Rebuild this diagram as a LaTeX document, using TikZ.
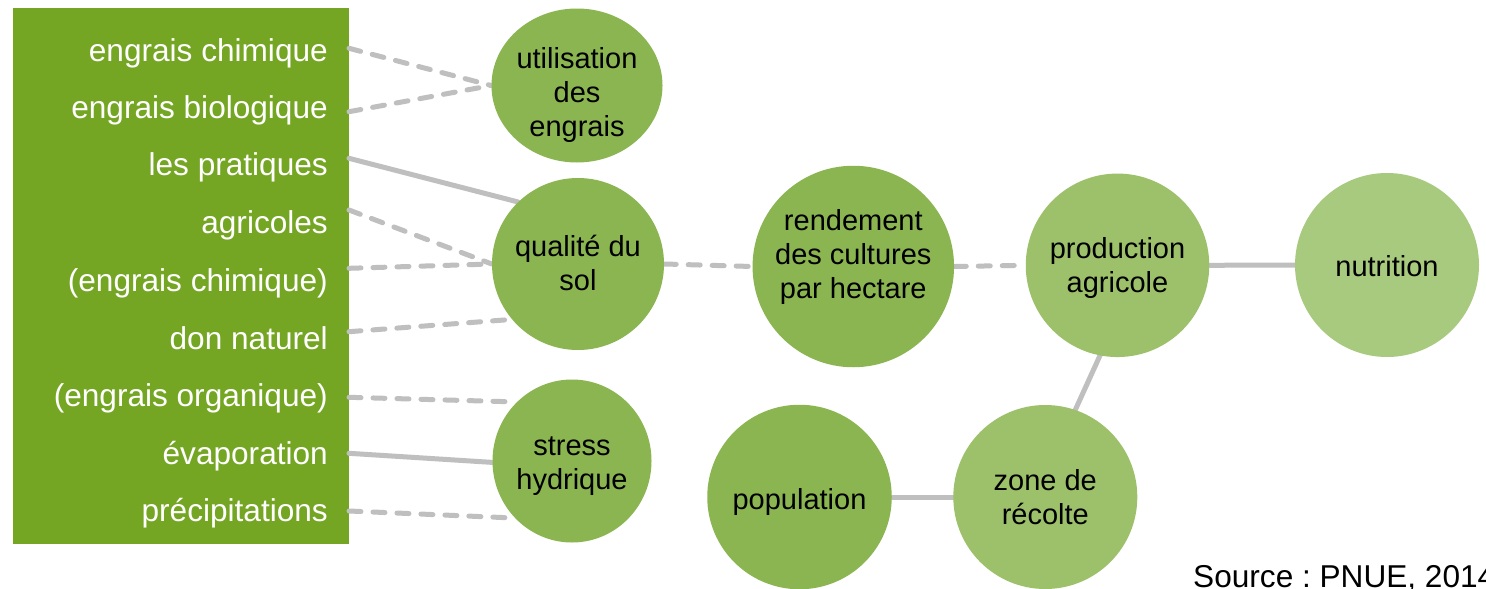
\documentclass[tikz,border=0pt]{standalone}
\usepackage{fontspec}
\setmainfont{Liberation Sans}
\usetikzlibrary{shapes.geometric}
\definecolor{boxgreen}{RGB}{116,166,36}
\definecolor{cdark}{RGB}{139,181,81}
\definecolor{cmid}{RGB}{157,193,106}
\definecolor{clight}{RGB}{168,202,126}
\definecolor{linegray}{RGB}{191,191,191}
\frenchspacing
\begin{document}
\begin{tikzpicture}[x=1pt,y=-1pt,
  conn/.style={draw=linegray, line width=5pt, line cap=round},
  dashconn/.style={conn, dash pattern=on 12pt off 12pt},
  bubble/.style={ellipse, inner sep=0pt, draw=none},
  ltxt/.style={anchor=base east, text=white, font=\fontsize{31.6}{36}\selectfont, inner sep=0pt},
  ctxt/.style={align=center, text=black, font=\fontsize{29}{34}\selectfont, inner sep=0pt}]
\clip (0,0) rectangle (1486,589);
\fill[white] (0,0) rectangle (1486,589);

% left box
\node[fill=boxgreen, minimum width=336pt, minimum height=536pt, inner sep=0pt, anchor=north west] (box) at (13,8) {};
\node[ltxt] (t1) at (328,61) {engrais chimique};
\node[ltxt] (t2) at (328,118.3) {engrais biologique};
\node[ltxt] (t3) at (328,175) {les pratiques};
\node[ltxt] (t4) at (328,233.3) {agricoles};
\node[ltxt] (t5) at (328,291) {(engrais chimique)};
\node[ltxt] (t6) at (328,349.3) {don naturel};
\node[ltxt] (t7) at (328,406.7) {(engrais organique)};
\node[ltxt] (t8) at (328,464) {évaporation};
\node[ltxt] (t9) at (328,521.7) {précipitations};

\coordinate (s1) at (349,48.3);
\coordinate (s2) at (349,111.7);
\coordinate (s3) at (349,158.3);
\coordinate (s4) at (349,210);
\coordinate (s5) at (349,268.3);
\coordinate (s6) at (349,331.7);
\coordinate (s7) at (349,397.3);
\coordinate (s8) at (349,453.3);
\coordinate (s9) at (349,511);

% bubbles
\node[bubble, minimum width=171pt, minimum height=154pt] (u) at (577,85.5) {};
\node[bubble, minimum width=172pt, minimum height=172pt] (q) at (578,264) {};
\node[bubble, minimum width=159pt, minimum height=163pt] (s) at (572,461) {};
\node[bubble, minimum width=201.5pt, minimum height=201.5pt] (r) at (853.3,266.5) {};
\node[bubble, minimum width=183.5pt, minimum height=183.5pt] (p) at (1117.5,265.3) {};
\node[bubble, minimum width=184pt, minimum height=184pt] (n) at (1387,265) {};
\node[bubble, minimum width=184.5pt, minimum height=184.5pt] (pop) at (799.5,497) {};
\node[bubble, minimum width=184pt, minimum height=184pt] (z) at (1045.3,497) {};

% connectors
\draw[dashconn] (s1) -- (u.west);
\draw[dashconn] (s2) -- (u.west);
\draw[conn] (s3) -- (q.134.5);
\draw[dashconn] (s4) -- (q.180);
\draw[dashconn] (s5) -- (q.180);
\draw[dashconn] (s6) -- (q.220);
\draw[dashconn] (s7) -- (s.133);
\draw[conn] (s8) -- (s.181);
\draw[dashconn] (s9) -- (s.225);
\draw[dashconn] (q.east) -- (r.west);
\draw[dashconn] (r.east) -- (p.west);
\draw[conn] (p.east) -- (n.west);
\draw[conn] (p.259) -- (z.71);
\draw[conn] (pop.east) -- (z.west);

% bubble fills on top
\fill[cdark] (u.center) ellipse [x radius=85.5pt, y radius=77pt];
\fill[cdark] (q.center) circle [radius=86pt];
\fill[cdark] (s.center) ellipse [x radius=79.5pt, y radius=81.5pt];
\fill[cdark] (r.center) circle [radius=100.75pt];
\fill[cmid] (p.center) circle [radius=91.75pt];
\fill[clight] (n.center) circle [radius=92pt];
\fill[cdark] (pop.center) circle [radius=92.25pt];
\fill[cmid] (z.center) circle [radius=92pt];

% bubble texts
\node[ctxt] (ut) at (577,95) {utilisation\\des\\engrais};
\node[ctxt] (qt) at (578,263) {qualité du\\sol};
\node[ctxt] (st) at (572,466) {stress\\hydrique};
\node[ctxt] (rt) at (853.3,256.5) {rendement\\des cultures\\par hectare};
\node[ctxt] (pt) at (1117.5,268) {production\\agricole};
\node[ctxt] (nt) at (1387,266) {nutrition};
\node[ctxt] (popt) at (799.5,501.5) {population};
\node[ctxt] (zt) at (1045.3,497) {zone de\\récolte};

% source
\node[anchor=base west, inner sep=0pt, font=\fontsize{31.6}{36}\selectfont] (src) at (1193,587.6) {Source : PNUE, 2014};
\end{tikzpicture}
\end{document}
